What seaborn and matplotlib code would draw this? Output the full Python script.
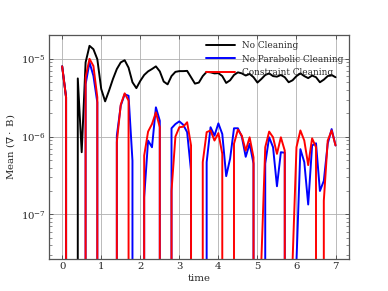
import numpy as np
import pandas as pd
import matplotlib
matplotlib.use("Agg")
import matplotlib.pyplot as plt
import seaborn as sns

# time samples (step 0.1 from 0 to 7)
time = [round(0.1 * i, 1) for i in range(71)]

# mean div B, non-positive samples stored as 0 (clipped on log axis)
no_cleaning = [
    8.0e-6, 3.2e-6, 0, 0, 5.6e-6, 6.3e-7, 9.0e-6, 1.47e-5, 1.33e-5, 9.9e-6,
    4.1e-6, 2.84e-6, 3.9e-6, 5.5e-6, 7.4e-6, 9.0e-6, 9.6e-6, 7.7e-6, 5.0e-6, 4.2e-6,
    5.2e-6, 6.2e-6, 6.9e-6, 7.4e-6, 8.0e-6, 6.9e-6, 5.1e-6, 4.7e-6, 6.0e-6, 6.8e-6,
    6.95e-6, 6.95e-6, 7.0e-6, 5.8e-6, 4.8e-6, 4.95e-6, 6.0e-6, 6.8e-6, 6.7e-6, 6.5e-6,
    6.55e-6, 6.0e-6, 4.9e-6, 5.3e-6, 6.2e-6, 6.7e-6, 6.5e-6, 6.1e-6, 6.4e-6, 5.8e-6,
    4.95e-6, 5.5e-6, 6.2e-6, 6.5e-6, 6.0e-6, 5.9e-6, 6.2e-6, 5.8e-6, 5.0e-6, 5.3e-6,
    6.0e-6, 6.5e-6, 6.0e-6, 5.65e-6, 6.1e-6, 5.8e-6, 5.0e-6, 5.4e-6, 6.0e-6, 6.2e-6,
    5.8e-6,
]
no_parabolic = [
    8.0e-6, 3.2e-6, 0, 0, 0, 0, 4.7e-6, 9.0e-6, 6.05e-6, 2.75e-6,
    0, 0, 0, 0, 1.03e-6, 2.5e-6, 3.5e-6, 3.35e-6, 4.9e-7, 0,
    0, 1.66e-7, 8.9e-7, 7.3e-7, 2.38e-6, 1.6e-6, 0, 0, 1.28e-6, 1.45e-6,
    1.57e-6, 1.42e-6, 1.14e-6, 3.6e-7, 0, 0, 0, 4.7e-7, 1.32e-6, 1.03e-6,
    1.48e-6, 1.08e-6, 3.1e-7, 5.2e-7, 1.28e-6, 1.28e-6, 1.0e-6, 5.5e-7, 8.1e-7, 4.5e-7,
    0, 0, 4.5e-7, 9.8e-7, 7.3e-7, 2.3e-7, 6.3e-7, 6.2e-7, 0, 0,
    2.5e-8, 6.9e-7, 4.7e-7, 1.34e-7, 7.7e-7, 8.2e-7, 2.0e-7, 2.7e-7, 8.1e-7, 1.25e-6,
    7.7e-7,
]
constraint = [
    8.0e-6, 3.2e-6, 0, 0, 0, 0, 5.8e-6, 1.0e-5, 8.1e-6, 3.2e-6,
    0, 0, 0, 0, 8.5e-7, 2.57e-6, 3.6e-6, 2.9e-6, 0, 0,
    0, 5.7e-7, 1.16e-6, 1.45e-6, 2.05e-6, 1.32e-6, 0, 0, 2.0e-7, 1.0e-6,
    1.32e-6, 1.34e-6, 1.53e-6, 7.7e-7, 0, 0, 4.7e-7, 1.14e-6, 1.2e-6, 8.9e-7,
    1.11e-6, 6.0e-7, 0, 0, 8.1e-7, 1.23e-6, 1.03e-6, 6.6e-7, 9.8e-7, 5.4e-7,
    0, 2.5e-8, 7.3e-7, 1.16e-6, 9.8e-7, 6.0e-7, 9.8e-7, 6.6e-7, 0, 2.5e-8,
    7.3e-7, 1.2e-6, 8.9e-7, 4.3e-7, 9.5e-7, 7.3e-7, 0, 1.5e-7, 8.9e-7, 1.2e-6,
    7.7e-7,
]

labels = ["No Cleaning", "No Parabolic Cleaning", "Constraint Cleaning"]
colors = ["black", "blue", "red"]

df = pd.concat([
    pd.DataFrame({"time": time, "divB": no_cleaning, "run": labels[0]}),
    pd.DataFrame({"time": time, "divB": no_parabolic, "run": labels[1]}),
    pd.DataFrame({"time": time, "divB": constraint, "run": labels[2]}),
])

sns.set_style("ticks", {
    "xtick.direction": "in", "ytick.direction": "in",
    "xtick.top": True, "ytick.right": True,
    "axes.grid": True, "grid.color": "#b0b0b0",
    "axes.edgecolor": "#555555",
})
plt.rcParams["font.family"] = "DejaVu Serif"
plt.rcParams["mathtext.fontset"] = "dejavuserif"

fig, ax = plt.subplots(figsize=(6.4, 4.8), dpi=60.625)
sns.lineplot(data=df, x="time", y="divB", hue="run", hue_order=labels,
             palette=colors, linewidth=2.3, ax=ax, estimator=None, sort=False)
ax.set_yscale("log")
ax.set_ylim(2.67e-8, 2.03e-5)
ax.set_xlim(-0.35, 7.35)
ax.set_xlabel("time", fontsize=12)
ax.set_ylabel(r"Mean ($\nabla \cdot$ B)", fontsize=12)
ax.tick_params(which="both", direction="in", top=True, right=True, labelsize=12)
ax.tick_params(which="major", length=5)
ax.tick_params(which="minor", length=3)
for s in ax.spines.values():
    s.set_linewidth(1.5)
ax.grid(True, which="major", color="#b0b0b0", linewidth=1)
ax.legend(loc="upper right", frameon=False, fontsize=10.5, title=None,
          handlelength=3.2, borderaxespad=0.3)

plt.savefig("out.png", dpi=60.625)
